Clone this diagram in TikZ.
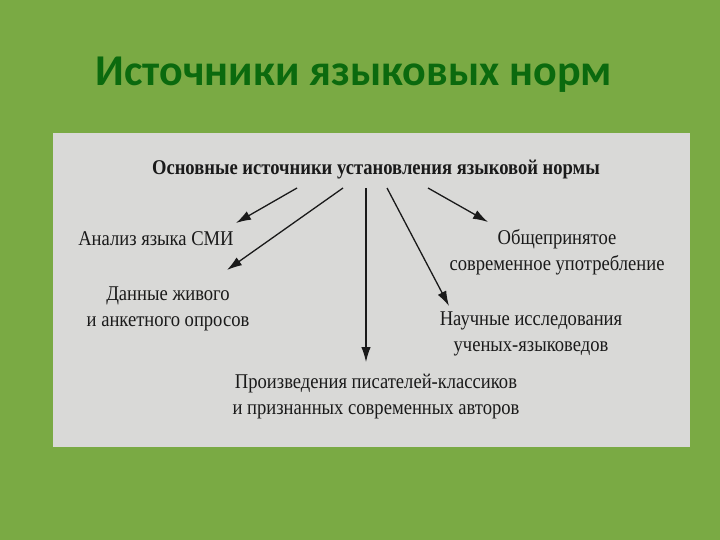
\documentclass[tikz,border=0pt]{standalone}
\usepackage{fontspec}
\setmainfont{Liberation Serif}[FakeStretch=0.885]
\newfontfamily\titlefont{Carlito}
\usetikzlibrary{arrows.meta}
\definecolor{bgreen}{HTML}{7AAA44}
\definecolor{tgreen}{HTML}{0B6A0E}
\definecolor{boxgrey}{HTML}{D9D9D7}
\definecolor{ink}{HTML}{1A1A1A}
\begin{document}
\begin{tikzpicture}[x=1pt,y=-1pt,
  lbl/.style={font=\fontsize{21}{26}\selectfont, text=ink, align=center, inner sep=0pt},
  arr/.style={-{Latex[length=15pt,width=9.5pt]}, line width=1.3pt, ink}]
\fill[bgreen] (0,0) rectangle (720,540);
\useasboundingbox (0,0) rectangle (720,540);
\fill[boxgrey] (53,133) rectangle (690,447);
\node[font=\titlefont\bfseries\fontsize{44}{52}\selectfont, text=tgreen, inner sep=0pt, anchor=base] (title) at (354,86) {Источники языковых норм};
\node[lbl, font=\bfseries\fontsize{21}{26}\selectfont] (hdr) at (376,170) {Основные источники установления языковой нормы};
\node[lbl] (smi) at (156,239) {Анализ языка СМИ};
\node[lbl] (live) at (168,309) {Данные живого\\и анкетного опросов};
\node[lbl] (common) at (557,252) {Общепринятое\\современное употребление};
\node[lbl] (sci) at (531,334) {Научные исследования\\ученых-языковедов};
\node[lbl] (lit) at (376,397) {Произведения писателей-классиков\\и признанных современных авторов};
\coordinate (s1) at (297,188); \coordinate (e1) at (236,223);
\coordinate (s2) at (343,188); \coordinate (e2) at (227,270);
\coordinate (s3) at (366,188); \coordinate (e3) at (366,362);
\coordinate (s4) at (387,188); \coordinate (e4) at (449,306);
\coordinate (s5) at (428,188); \coordinate (e5) at (488,222);
\draw[arr] (s1) -- (e1);
\draw[arr] (s2) -- (e2);
\draw[arr] (s3) -- (e3);
\draw[arr] (s4) -- (e4);
\draw[arr] (s5) -- (e5);
\end{tikzpicture}
\end{document}
